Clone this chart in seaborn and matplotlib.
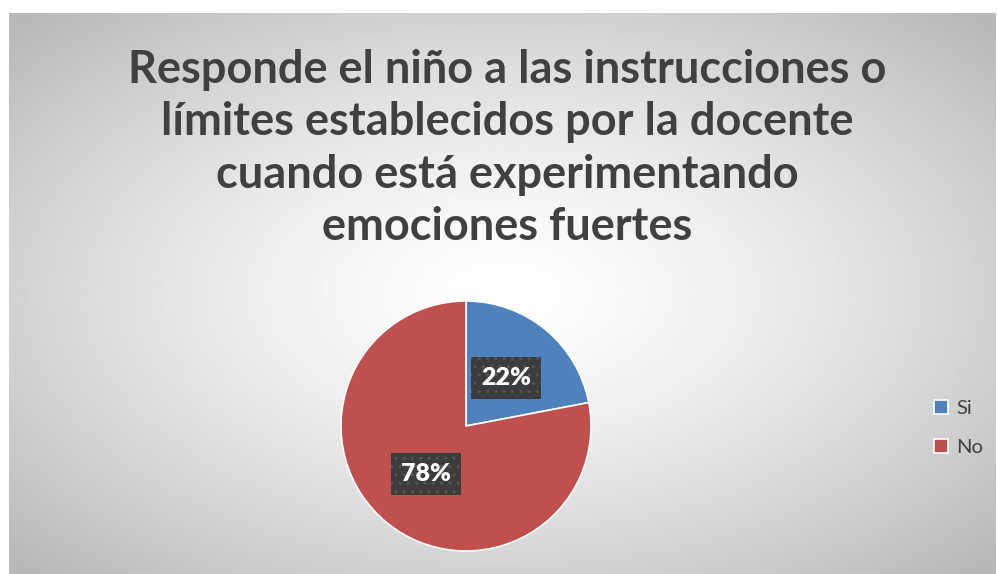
import numpy as np
import matplotlib.pyplot as plt
import seaborn as sns

# --- data ---
labels = ['Si', 'No']
values = [22, 78]
colors = ['#4F81BD', '#C0504D']
title = ('Responde el niño a las instrucciones o\n'
         'límites establecidos por la docente\n'
         'cuando está experimentando\n'
         'emociones fuertes')

sns.set_style('white')
plt.rcParams['font.family'] = ['Lato', 'DejaVu Sans']

fig = plt.figure(figsize=(9.97, 5.74), dpi=100)
fig.patch.set_facecolor('white')

# radial gradient background of the chart area
bg = fig.add_axes([9 / 997, 0, 1 - 11 / 997, 1 - 13 / 574])
yy, xx = np.mgrid[0:1:300j, 0:1:500j]
d = np.sqrt(((xx - 0.5) / 0.62) ** 2 + ((yy - 0.5) / 0.62) ** 2)
shade = 1.0 - 0.24 * np.clip(d, 0, 1.1) ** 1.4
bg.imshow(shade, cmap='gray', vmin=0, vmax=1, aspect='auto', extent=[0, 1, 0, 1])
bg.set_axis_off()

fig.text(0.509, 0.915, title, ha='center', va='top', fontsize=32.5,
         fontweight='bold', color='#404040', linespacing=1.31)

# pie
r = 125
cx, cy = 466, 574 - 426
ax = fig.add_axes([(cx - r) / 997, (cy - r) / 574, 2 * r / 997, 2 * r / 574])
wedges, texts, autotexts = ax.pie(
    values, colors=colors, startangle=90, counterclock=False,
    autopct='%1.0f%%', pctdistance=0.5,
    wedgeprops=dict(edgecolor='white', linewidth=1.2))
for t in autotexts:
    t.set_color('white')
    t.set_fontsize(18)
    t.set_fontweight('heavy')
    t.set_bbox(dict(boxstyle='square,pad=0.4', facecolor='#3c3c3c',
                    edgecolor='#555555', hatch='..', linewidth=0))
ax.set_xlim(-1, 1)
ax.set_ylim(-1, 1)
ax.set_aspect('equal')

fig.legend(wedges, labels, loc='center left', bbox_to_anchor=(930 / 997, 1 - 428 / 574),
           frameon=False, fontsize=14.5, handlelength=0.7, handleheight=0.7,
           labelspacing=1.05, handletextpad=0.4, labelcolor='#404040',
           borderaxespad=0, borderpad=0.2)

fig.savefig('out.png', dpi=100)
